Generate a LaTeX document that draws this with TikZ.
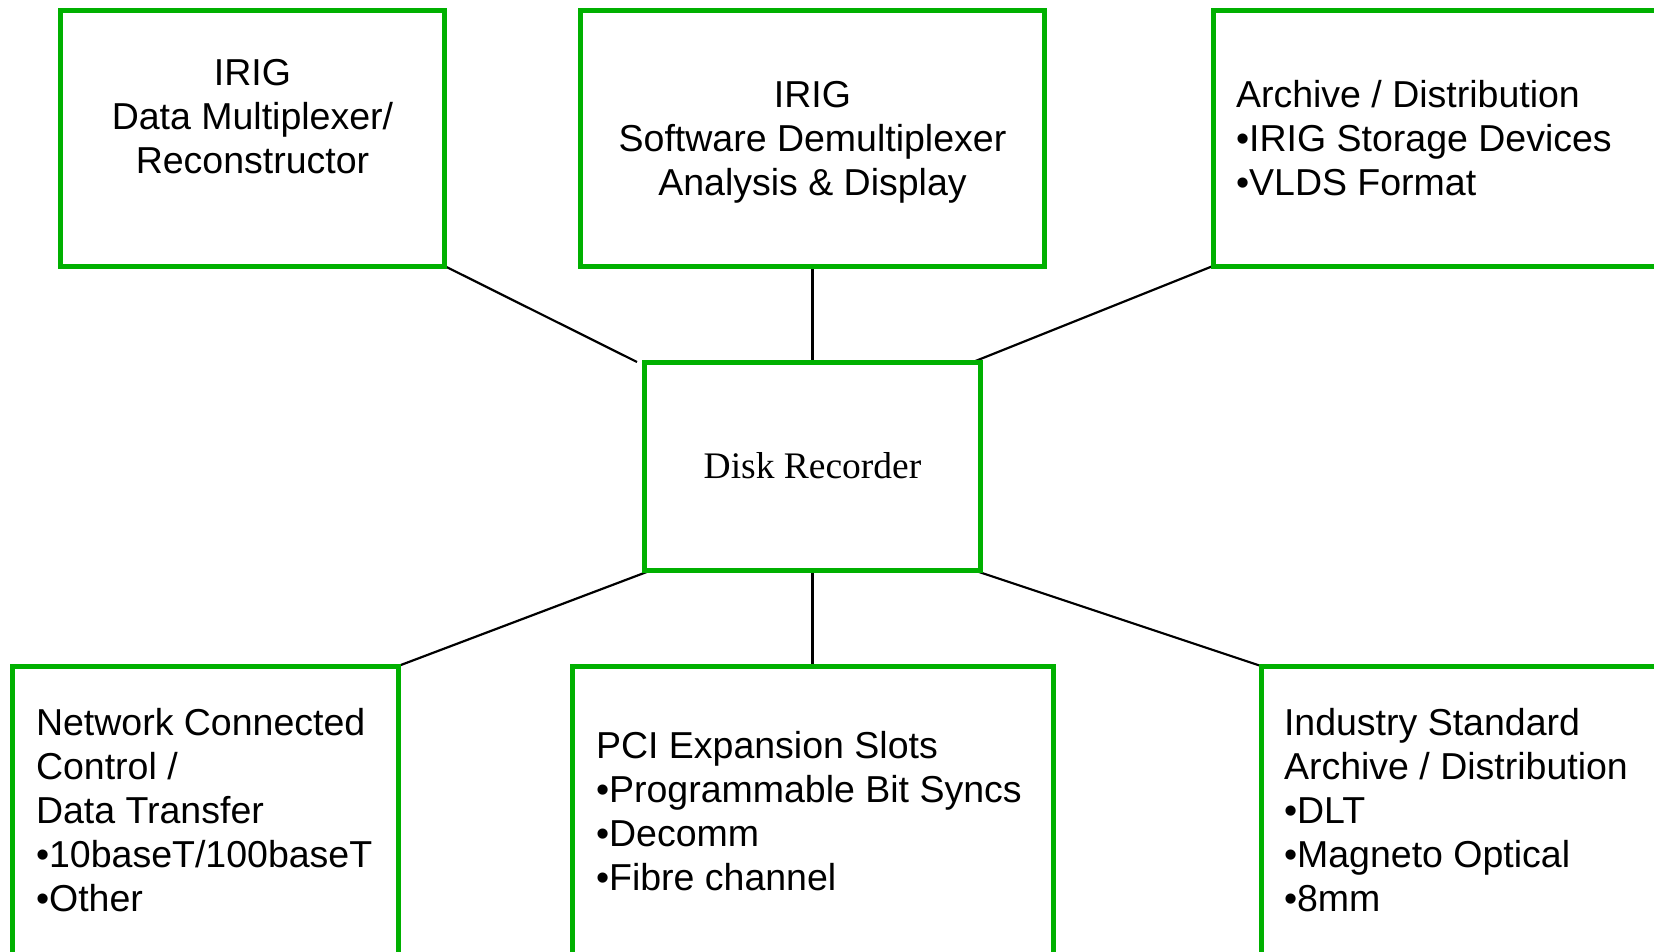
\documentclass[tikz,border=0pt]{standalone}
\usepackage{fontspec}
\setmainfont{Liberation Sans}
\newfontfamily\serifface{Liberation Serif}
\usetikzlibrary{backgrounds}
\definecolor{boxgreen}{RGB}{0,176,0}
\begin{document}
\begin{tikzpicture}[x=1pt,y=-1pt,
  gbox/.style={draw=boxgreen,line width=5pt,inner sep=0pt,outer sep=0pt,anchor=north west},
  link/.style={draw=black,line width=2.2pt},
  txt/.style={font=\fontsize{37.5}{44}\selectfont,inner sep=0pt,outer sep=0pt}]
\useasboundingbox (0,0) rectangle (1654,951);
\clip (0,0) rectangle (1654,951);
% boxes
\node[gbox,minimum width=384pt,minimum height=255.5pt] (b1) at (60.5,10.5) {};
\node[gbox,minimum width=464pt,minimum height=255.5pt] (b2) at (580.5,10.5) {};
\node[gbox,minimum width=500pt,minimum height=255.5pt] (b3) at (1213,10.5) {};
\node[gbox,minimum width=336pt,minimum height=208pt] (c) at (644.5,362) {};
\node[gbox,minimum width=385.5pt,minimum height=350pt] (d1) at (12.7,666) {};
\node[gbox,minimum width=481pt,minimum height=350pt] (d2) at (572,666) {};
\node[gbox,minimum width=500pt,minimum height=350pt] (d3) at (1261,666) {};
% connector end points
\coordinate (ca) at ([xshift=-7.5pt]c.north west);
\coordinate (cb) at ([xshift=-7.5pt]c.north east);
\coordinate (cc) at ([xshift=7.5pt]c.south west);
\coordinate (cd) at ([xshift=-7.5pt]c.south east);
\begin{scope}[on background layer]
\draw[link] (b1.south east) -- (ca);
\draw[link] (b2.south) -- (c.north);
\draw[link] (b3.south west) -- (cb);
\draw[link] (cc) -- (d1.north east);
\draw[link] (c.south) -- (d2.north);
\draw[link] (cd) -- (d3.north west);
\end{scope}
% texts (anchor = baseline of last line)
\node[txt,anchor=base,align=center] (t1) at (252.5,173) {IRIG\\Data Multiplexer/\\Reconstructor};
\node[txt,anchor=base,align=center] (t2) at (812.5,195.5) {IRIG\\Software Demultiplexer\\Analysis \& Display};
\node[txt,anchor=base west,align=left] (t3) at (1236,195.5) {Archive / Distribution\\\textbullet IRIG Storage Devices\\\textbullet VLDS Format};
\node[txt,font=\serifface\fontsize{37.5}{44}\selectfont] (t4) at (c.center) {Disk Recorder};
\node[txt,anchor=base west,align=left] (t5) at (36,911) {Network Connected\\Control /\\Data Transfer\\\textbullet 10baseT/100baseT\\\textbullet Other};
\node[txt,anchor=base west,align=left] (t6) at (596,890.5) {PCI Expansion Slots\\\textbullet Programmable Bit Syncs\\\textbullet Decomm\\\textbullet Fibre channel};
\node[txt,anchor=base west,align=left] (t7) at (1284,911) {Industry Standard\\Archive / Distribution\\\textbullet DLT\\\textbullet Magneto Optical\\\textbullet 8mm};
\end{tikzpicture}
\end{document}
